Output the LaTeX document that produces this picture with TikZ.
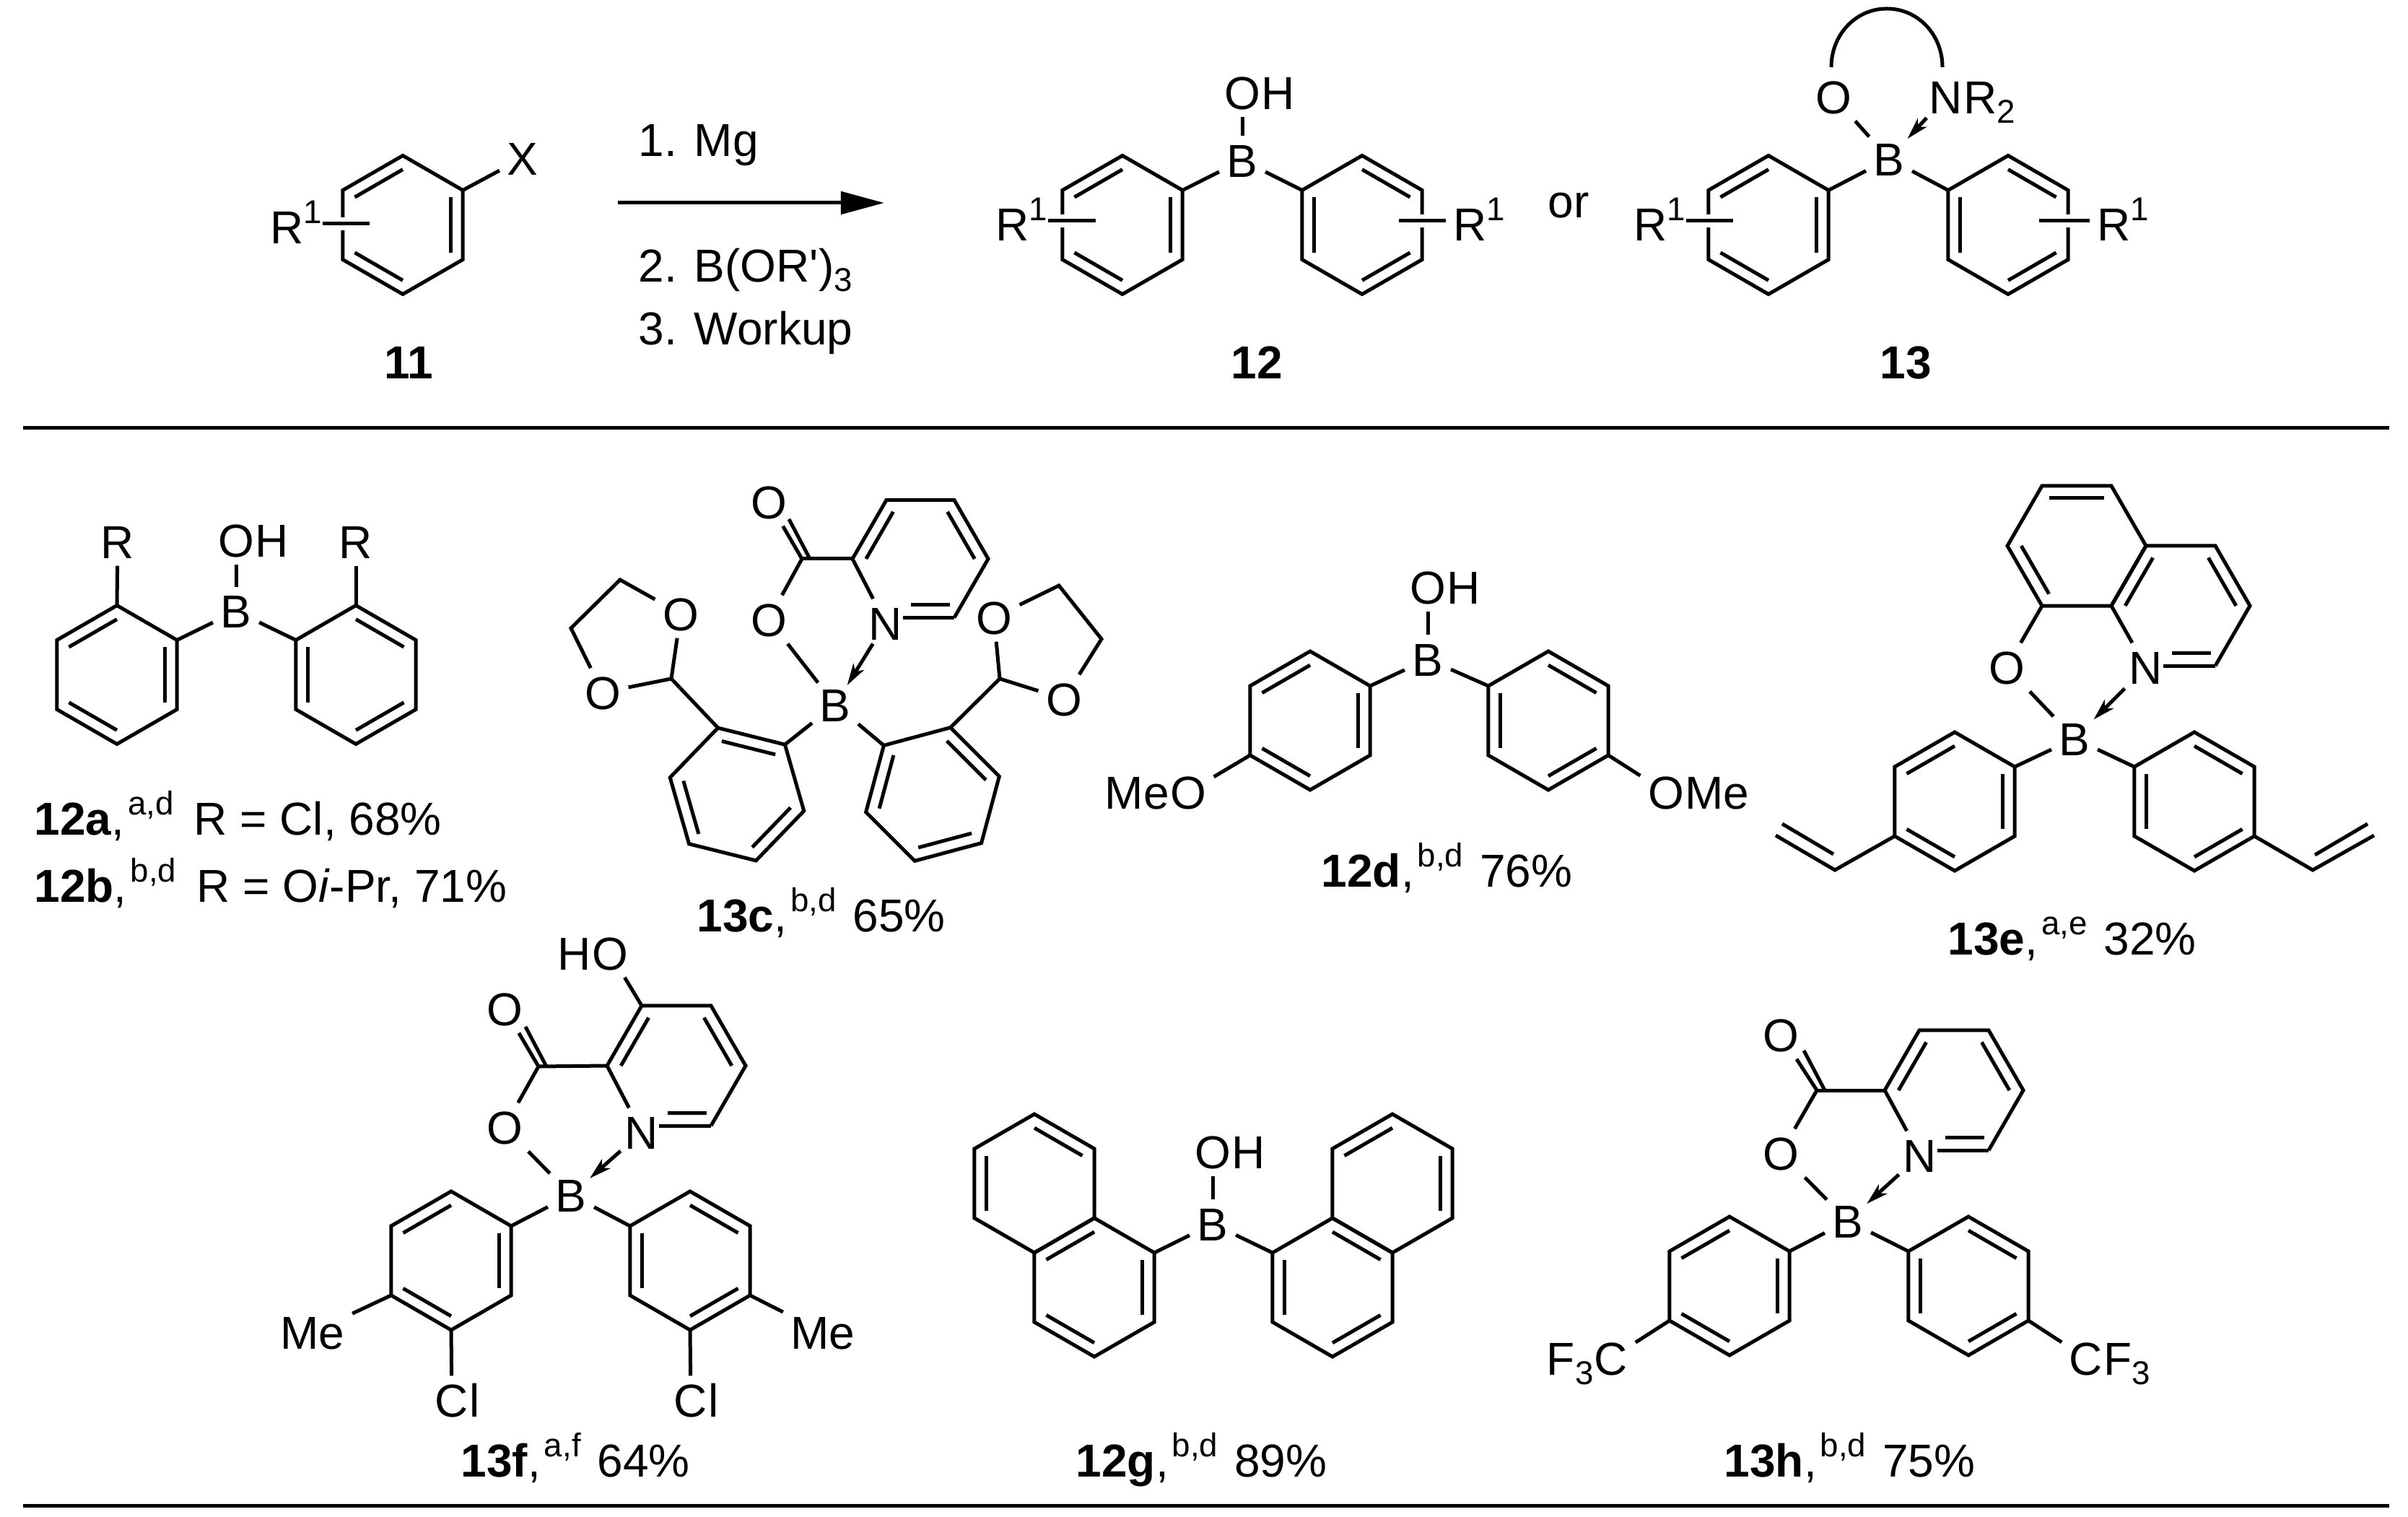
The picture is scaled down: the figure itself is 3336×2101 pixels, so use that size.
\documentclass[tikz,border=0pt]{standalone}
\usepackage{fontspec}
\setmainfont{Liberation Sans}[Ligatures=TeXOff]
\usetikzlibrary{calc,arrows.meta}
\newcommand{\fs}{\fontsize{18.2}{22}\selectfont}
\newcommand{\sps}[1]{\raisebox{2.7mm}{\fontsize{13}{15}\selectfont #1}}
\newcommand{\sbs}[1]{\raisebox{-1.3mm}{\fontsize{13}{15}\selectfont #1}}
\tikzset{
  bond/.style={line width=.05cm,black},
  obond/.style={bond,shorten >=-.04cm},
  stub/.style={bond,preaction={draw,white,line width=.18cm}},
  dative/.style={bond,shorten >=-.08cm,shorten <=-.06cm,-{Stealth[length=.3cm,width=.17cm,inset=.08cm]}},
  atom/.style={font=\fs,inner sep=1mm,text height=.46cm,text depth=0pt},
  txt/.style={font=\fs,inner sep=0pt,text height=.46cm,text depth=0pt},
  tailr/.style={txt,xshift=-1mm},
  taill/.style={txt,xshift=1mm},
  base/.style={font=\fs,inner sep=0pt,anchor=base west},
  rule/.style={line width=.05cm,black},
}
% name, cx, cy, r, rotation, double-bond list
\newcommand{\hexring}[6]{%
  \coordinate (#1c) at (#2,#3);
  \foreach \k in {0,...,5}{\coordinate (#1\k) at ({#2+#4*cos(-90+#5+60*\k)},{#3+#4*sin(-90+#5+60*\k)});}
  \draw[bond] (#10)--(#11)--(#12)--(#13)--(#14)--(#15)--cycle;
  \foreach \k in {#6}{\pgfmathtruncatemacro\kn{mod(\k+1,6)}
    \draw[bond] ($(#1\k)!.2!(#1c)$) -- ($(#1\kn)!.2!(#1c)$);}
}
% name, cx, cy, r, Nx, Ny : pyridine ring with N lower left
\newcommand{\pyridine}[6]{%
  \coordinate (#1c) at (#2,#3);
  \foreach \k in {0,...,5}{\coordinate (#1\k) at ({#2+#4*cos(-60+60*\k)},{#3+#4*sin(-60+60*\k)});}
  \node[atom] (#1N) at (#5,#6) {N};
  \draw[bond] (#12)--(#11)--(#10)--(#15)--(#14)--(#1N);
  \draw[bond] (#12) -- ([xshift=-1mm]#1N.east |- #12);
  \draw[bond] ($(#12)+(-6,-18)$) -- ($(#12)+(-60,-18)$);
  \draw[bond] ($(#10)!.2!(#1c)$) -- ($(#11)!.2!(#1c)$);
  \draw[bond] ($(#14)!.2!(#1c)$) -- ($(#15)!.2!(#1c)$);
}
% carbon, oxygen node
\newcommand{\carbonyl}[2]{%
  \draw[bond] (#1) -- (#2);
  \draw[bond] ($(#1)+(11,0)$) -- ($(#1)+(-18,-55)$);
}
\newcommand{\cmpd}[6]{\node[base] (#1) at (#2,#3) {\textbf{#4},\hspace{.05cm}\sps{#5}\hspace{.05cm} #6};}
\begin{document}
\begin{tikzpicture}[x=0.01cm,y=-0.01cm]
\fill[white] (0,0) rectangle (3336,2101);
\useasboundingbox (0,0) rectangle (3336,2101);

% ---------- scheme
\hexring{a}{558}{311.5}{96}{0}{1,3,5}
\node[atom] (X) at (724,219) {X};
\draw[bond] (a1) -- (X);
\node[txt,anchor=west] (ra) at (374,314) {R\sps{1}};
\coordinate (sa) at (512,310);
\draw[stub] (ra.east |- sa) -- (sa);
\node[base] (t1) at (884,217) {1. Mg};
\node[base] (t2) at (884,391) {2. B(OR')\sbs{3}};
\node[base] (t3) at (884,478) {3. Workup};
\coordinate (arA) at (856,281);
\coordinate (arB) at (1225,281);
\draw[line width=.05cm,-{Triangle[length=.6cm,width=.31cm]}] (arA) -- (arB);
\node[base,anchor=base,font=\fs\bfseries] (n11) at (566,525) {11};

\hexring{b}{1555}{311.5}{96}{0}{1,3,5}
\hexring{c}{1887}{311.5}{96}{0}{0,2,4}
\node[atom] (bB) at (1721,222) {B};
\node[atom,label={[tailr]right:H}] (bO) at (1721,128) {O};
\draw[bond] (b1) -- (bB);
\draw[bond] (c5) -- (bB);
\draw[bond] (bB) -- (bO);
\node[txt,anchor=west] (rb) at (1379,310) {R\sps{1}};
\coordinate (sb) at (1518,306);
\draw[stub] (rb.east |- sb) -- (sb);
\node[txt,anchor=west] (rc) at (2013,310) {R\sps{1}};
\coordinate (sc) at (1938,306);
\draw[stub] (sc) -- ([xshift=-1mm]rc.west |- sc);
\node[base,anchor=base,font=\fs\bfseries] (n12) at (1741,525) {12};
\node[base,anchor=base] (or) at (2173,302) {or};

\hexring{d}{2450}{311.5}{96}{0}{1,3,5}
\hexring{e}{2782}{311.5}{96}{0}{0,2,4}
\node[atom] (dB) at (2617,220) {B};
\node[atom] (dO) at (2540,134) {O};
\node[atom,label={[tailr]right:R\sbs{2}}] (dN) at (2696,134) {N};
\draw[bond] (d1) -- (dB);
\draw[bond] (e5) -- (dB);
\draw[obond] (dO) -- (dB);
\draw[dative] (dN) -- (dB);
\coordinate (arcL) at (2537,93);
\coordinate (arcT) at (2614,12);
\coordinate (arcR) at (2691,93);
\draw[bond] (arcL) .. controls (2537,48) and (2571,12) .. (arcT) .. controls (2657,12) and (2691,48) .. (arcR);
\node[txt,anchor=west] (rd) at (2263,310) {R\sps{1}};
\coordinate (sd) at (2401,306);
\draw[stub] (rd.east |- sd) -- (sd);
\node[txt,anchor=west] (re) at (2905,310) {R\sps{1}};
\coordinate (se) at (2825,306);
\draw[stub] (se) -- ([xshift=-1mm]re.west |- se);
\node[base,anchor=base,font=\fs\bfseries] (n13) at (2640,525) {13};

\coordinate (ruleAa) at (32,593);
\coordinate (ruleAb) at (3310,593);
\draw[rule] (ruleAa) -- (ruleAb);

% ---------- 12a/b
\hexring{f}{162}{934.5}{96}{0}{1,3,5}
\hexring{g}{493}{934.5}{96}{0}{0,2,4}
\node[atom] (fB) at (327,846.5) {B};
\node[atom,label={[tailr]right:H}] (fO) at (327,748) {O};
\node[atom] (fR) at (163,750) {R};
\node[atom] (gR) at (493,750) {R};
\draw[bond] (f1) -- (fB);
\draw[bond] (g5) -- (fB);
\draw[bond] (fB) -- (fO);
\draw[bond] (f0) -- (fR);
\draw[bond] (g0) -- (gR);
\cmpd{l12a}{47}{1156}{12a}{a,d}{\hspace{.05cm}R = Cl, 68\%}
\cmpd{l12b}{47}{1249}{12b}{b,d}{\hspace{.05cm}R = O\textit{i}-Pr, 71\%}

% ---------- 13c
\pyridine{h}{1275}{774}{94}{1227}{863}
\coordinate (hC) at (1111,774);
\node[atom] (hOt) at (1065,695) {O};
\node[atom] (hO) at (1065,858) {O};
\node[atom] (hB) at (1157,976) {B};
\draw[bond] (hC) -- (h4);
\carbonyl{hC}{hOt}
\draw[bond] (hC) -- (hO);
\draw[obond] (hO) -- (hB);
\draw[dative] (hN) -- (hB);
\hexring{i}{1021}{1100}{95.6}{-16}{0,2,4}
\hexring{j}{1292}{1100}{95.6}{15}{0,2,4}
\draw[bond] (i1) -- (hB);
\draw[bond] (j5) -- (hB);
\coordinate (iC) at (930,940);
\node[atom] (iOa) at (835,959) {O};
\node[atom] (iOb) at (943,850) {O};
\coordinate (iCa) at (791,870);
\coordinate (iCb) at (859,803);
\draw[bond] (i0) -- (iC);
\draw[bond] (iC) -- (iOa);
\draw[bond] (iC) -- (iOb);
\draw[bond] (iOa) -- (iCa) -- (iCb) -- (iOb);
\coordinate (jC) at (1385,940);
\node[atom] (jOa) at (1474,968) {O};
\node[atom] (jOb) at (1377,855) {O};
\coordinate (jCa) at (1526,885);
\coordinate (jCb) at (1467,811);
\draw[bond] (j0) -- (jC);
\draw[bond] (jC) -- (jOa);
\draw[bond] (jC) -- (jOb);
\draw[bond] (jOa) -- (jCa) -- (jCb) -- (jOb);
\cmpd{l13c}{965}{1290}{13c}{b,d}{65\%}

% ---------- 12d
\hexring{k}{1815}{998}{96}{0}{1,3,5}
\hexring{m}{2145}{998}{96}{0}{0,2,4}
\node[atom] (kB) at (1978,913) {B};
\node[atom,label={[tailr]right:H}] (kO) at (1978,813) {O};
\draw[bond] (k1) -- (kB);
\draw[bond] (m5) -- (kB);
\draw[bond] (kB) -- (kO);
\node[atom,label={[taill]left:Me}] (kOa) at (1646,1097) {O};
\node[atom,label={[tailr]right:Me}] (mOa) at (2308,1097) {O};
\draw[bond] (k4) -- (kOa);
\draw[bond] (m2) -- (mOa);
\cmpd{l12d}{1830}{1228}{12d}{b,d}{76\%}

% ---------- 13e
\hexring{n}{2877}{756}{96}{30}{3,5}
\pyridine{p}{3021}{839}{96}{2973}{924}
\node[atom] (qO) at (2780,924) {O};
\node[atom] (qB) at (2874,1023) {B};
\draw[bond] (n3) -- (qO);
\draw[obond] (qO) -- (qB);
\draw[dative] (pN) -- (qB);
\hexring{q}{2708}{1110}{96}{0}{1,3,5}
\hexring{r}{3040}{1110}{96}{0}{0,2,4}
\draw[bond] (q1) -- (qB);
\draw[bond] (r5) -- (qB);
\coordinate (vaa) at (2542,1205);
\coordinate (vab) at (2460,1157);
\coordinate (vba) at (3204,1205);
\coordinate (vbb) at (3289,1157);
\draw[bond] (q4) -- (vaa) -- (vab);
\draw[bond] (r2) -- (vba) -- (vbb);
\draw[bond] ($(vaa)+(-2,-22)$) -- ($(vab)+(9,-16)$);
\draw[bond] ($(vba)+(3,-21)$) -- ($(vbb)+(-9,-16)$);
\cmpd{l13e}{2698}{1322}{13e}{a,e}{32\%}

% ---------- 13f
\pyridine{s}{937}{1476}{96}{889}{1568}
\coordinate (sC) at (746,1477);
\node[atom] (sOt) at (699,1397) {O};
\node[atom] (sO) at (699,1561) {O};
\node[atom] (sB) at (791,1655) {B};
\node[atom,label={[taill]left:H}] (sOH) at (845,1320) {O};
\draw[bond] (s5) -- (sOH);
\draw[bond] (sC) -- (s4);
\carbonyl{sC}{sOt}
\draw[bond] (sC) -- (sO);
\draw[obond] (sO) -- (sB);
\draw[dative] (sN) -- (sB);
\hexring{t}{625}{1746}{96}{0}{1,3,5}
\hexring{u}{956}{1746}{96}{0}{0,2,4}
\draw[bond] (t1) -- (sB);
\draw[bond] (u5) -- (sB);
\node[atom] (tMe) at (433,1845) {Me};
\node[atom] (uMe) at (1140,1845) {Me};
\draw[bond] (t4) -- (tMe);
\draw[bond] (u2) -- (uMe);
\node[atom,label={[tailr]right:l}] (tCl) at (626,1939) {C};
\node[atom,label={[tailr]right:l}] (uCl) at (957,1939) {C};
\draw[bond] (t3) -- (tCl);
\draw[bond] (u3) -- (uCl);
\cmpd{l13f}{638}{2045}{13f}{a,f}{64\%}

% ---------- 12g
\hexring{v}{1433}{1639}{96}{0}{0,4}
\hexring{w}{1516}{1783}{96}{0}{1,3,5}
\hexring{y}{1929}{1639}{96}{0}{1,5}
\hexring{z}{1846}{1783}{96}{0}{0,2,4}
\node[atom] (zB) at (1680,1695) {B};
\node[atom,label={[tailr]right:H}] (zO) at (1680,1595) {O};
\draw[bond] (w1) -- (zB);
\draw[bond] (z5) -- (zB);
\draw[bond] (zB) -- (zO);
\cmpd{l12g}{1490}{2045}{12g}{b,d}{89\%}

% ---------- 13h
\pyridine{aa}{2707}{1510}{96}{2660}{1600}
\coordinate (aaC) at (2517,1510);
\node[atom] (aaOt) at (2467,1433) {O};
\node[atom] (aaO) at (2467,1597) {O};
\node[atom] (aaB) at (2560,1691) {B};
\draw[bond] (aaC) -- (aa4);
\carbonyl{aaC}{aaOt}
\draw[bond] (aaC) -- (aaO);
\draw[obond] (aaO) -- (aaB);
\draw[dative] (aaN) -- (aaB);
\hexring{ab}{2396}{1781}{96}{0}{1,3,5}
\hexring{ac}{2727}{1781}{96}{0}{0,2,4}
\draw[bond] (ab1) -- (aaB);
\draw[bond] (ac5) -- (aaB);
\node[atom,label={[taill]left:F\sbs{3}}] (abC) at (2232,1881) {C};
\node[atom,label={[tailr]right:F\sbs{3}}] (acC) at (2890,1881) {C};
\draw[bond] (ab4) -- (abC);
\draw[bond] (ac2) -- (acC);
\cmpd{l13h}{2388}{2045}{13h}{b,d}{75\%}

\coordinate (ruleBa) at (32,2085);
\coordinate (ruleBb) at (3310,2085);
\draw[rule] (ruleBa) -- (ruleBb);
\end{tikzpicture}
\end{document}
